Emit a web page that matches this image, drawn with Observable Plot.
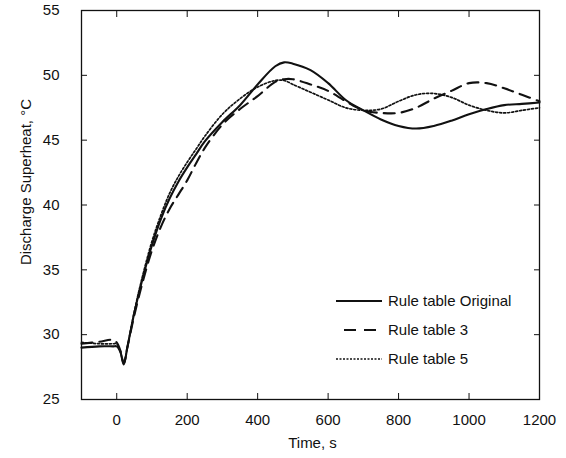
<!DOCTYPE html>
<html>
<head>
<meta charset="utf-8">
<script src="https://cdn.jsdelivr.net/npm/d3@7"></script>
<script src="https://cdn.jsdelivr.net/npm/@observablehq/plot@0.6"></script>
<style>
  html, body { margin: 0; padding: 0; background: #fff; }
  #wrap { position: relative; width: 566px; height: 458px; font-family: "Liberation Sans", Arial, sans-serif; }
  #legend { position: absolute; left: 336px; top: 286px; font-size: 15px; color: #111; }
  #legend .row { display: flex; align-items: center; height: 29px; }
  #legend svg { width: 46px; height: 10px; margin-right: 6px; }
</style>
</head>
<body>
<div id="wrap"><div id="chart"></div><div id="legend"></div></div>
<script>
const times = [-100,-50,-10,0,10,20,30,50,75,100,125,150,175,200,225,250,300,350,400,450,475,500,550,600,650,700,750,800,850,900,950,1000,1050,1100,1150,1200];
const ruleOriginal = [29.0,29.1,29.1,29.1,28.7,27.7,29.0,31.7,34.5,36.9,38.9,40.5,41.8,42.9,43.9,44.9,46.4,47.7,49.3,50.7,51.0,50.9,50.4,49.4,48.1,47.3,46.6,46.1,45.9,46.1,46.5,47.0,47.4,47.7,47.8,47.9];
const rule3 = [29.3,29.45,29.6,29.4,28.8,27.8,29.0,31.5,34.2,36.5,38.3,39.7,40.8,41.9,43.2,44.4,46.2,47.4,48.4,49.5,49.7,49.7,49.3,48.8,48.0,47.3,47.1,47.1,47.5,48.2,48.8,49.4,49.4,49.0,48.5,48.0];
const rule5 = [29.4,29.3,29.3,29.3,28.7,27.8,29.0,31.8,34.7,37.2,39.2,40.9,42.2,43.3,44.3,45.3,47.0,48.2,49.1,49.6,49.6,49.3,48.7,48.1,47.5,47.3,47.4,48.0,48.5,48.6,48.3,47.7,47.3,47.1,47.3,47.5];
const seriesNames = ["Rule table Original", "Rule table 3", "Rule table 5"];
const xTicks = [0,200,400,600,800,1000,1200];
const yTicks = [25,30,35,40,45,50,55];

const styles = [
  {stroke: "#111", strokeWidth: 2.1, dash: null},
  {stroke: "#111", strokeWidth: 2.1, dash: "11,7"},
  {stroke: "#111", strokeWidth: 1.7, dash: "2,2"}
];
const seriesValues = [ruleOriginal, rule3, rule5];
const rows = [];
seriesValues.forEach((vals, s) => vals.forEach((v, i) => rows.push({series: seriesNames[s], t: times[i], v})));

const lineMarks = seriesNames.map((name, s) => Plot.line(rows.filter(d => d.series === name), {
  x: "t", y: "v", curve: "catmull-rom",
  stroke: styles[s].stroke, strokeWidth: styles[s].strokeWidth,
  strokeDasharray: styles[s].dash, strokeLinejoin: "round"
}));

const chart = Plot.plot({
  width: 566, height: 458,
  marginLeft: 81, marginRight: 27, marginTop: 10, marginBottom: 59,
  style: {fontFamily: '"Liberation Sans", Arial, sans-serif', fontSize: "15px", color: "#111", background: "white"},
  x: {domain: [-100, 1200]},
  y: {domain: [25, 55]},
  marks: [
    Plot.axisX(xTicks, {anchor: "bottom", tickSize: -6, tickPadding: 21, label: null, fontSize: 15, tickFormat: d => String(d)}),
    Plot.axisX(xTicks, {anchor: "top", tickSize: -6, tickFormat: () => "", label: null}),
    Plot.axisY(yTicks, {anchor: "left", tickSize: -6, tickPadding: 28, label: null, fontSize: 15, tickFormat: d => String(d)}),
    Plot.axisY(yTicks, {anchor: "right", tickSize: -6, tickFormat: () => "", label: null}),
    Plot.frame({stroke: "#111", strokeWidth: 1.3}),
    ...lineMarks,
    Plot.text(["Time, s"], {frameAnchor: "bottom", dx: 2, dy: 48, fontSize: 15, fill: "#111"}),
    Plot.text(["Discharge Superheat, °C"], {frameAnchor: "left", textAnchor: "middle", rotate: -90, dx: -55, dy: -23, fontSize: 15, fill: "#111"})
  ]
});
document.getElementById("chart").appendChild(chart);

const legend = document.getElementById("legend");
seriesNames.forEach((name, s) => {
  const row = document.createElement("div");
  row.className = "row";
  const dash = styles[s].dash ? ` stroke-dasharray="${s === 1 ? '12,8' : '2,1.5'}"` : "";
  row.innerHTML = `<svg viewBox="0 0 46 10"><line x1="${s === 1 ? 8 : 0}" y1="5" x2="46" y2="5" stroke="#111" stroke-width="${s === 2 ? 1.4 : 2}"${dash}/></svg><span>${name}</span>`;
  legend.appendChild(row);
});
</script>
</body>
</html>
